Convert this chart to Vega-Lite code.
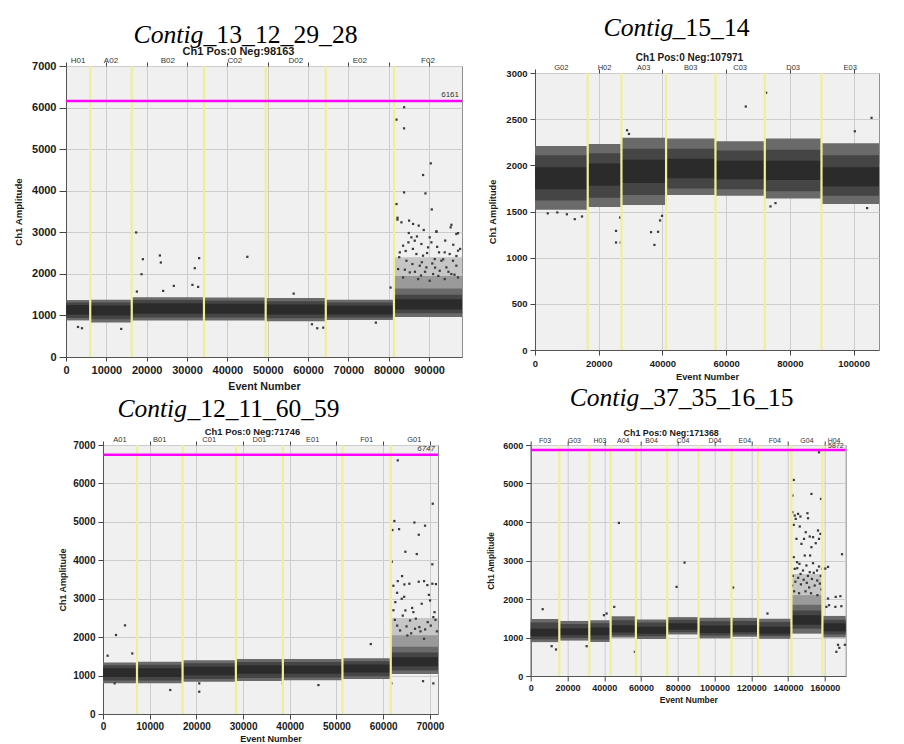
{
  "$schema": "https://vega.github.io/schema/vega-lite/v6.json",
  "background": "white",
  "padding": {"left": 12, "top": 13, "right": 0, "bottom": 0},
  "config": {
    "view": {"fill": "#f0f0f0", "stroke": "#8f8f8f", "strokeWidth": 1},
    "axis": {
      "labelFont": "Liberation Sans", "labelFontWeight": "bold", "labelColor": "#1a1a1a",
      "titleFont": "Liberation Sans", "titleFontWeight": "bold", "titleColor": "#1a1a1a",
      "tickColor": "#444444", "domainColor": "#555555", "gridColor": "#cccccc",
      "labelOverlap": false, "labelFlush": false, "labelBound": false
    },
    "text": {"font": "Liberation Sans"}
  },
  "datasets": {
    "wells": [
      {"sample": "c13", "well": "H01", "start": 0, "end": 6000},
      {"sample": "c13", "well": "A02", "start": 6000, "end": 16300},
      {"sample": "c13", "well": "B02", "start": 16300, "end": 34200},
      {"sample": "c13", "well": "C02", "start": 34200, "end": 49500},
      {"sample": "c13", "well": "D02", "start": 49500, "end": 64400},
      {"sample": "c13", "well": "E02", "start": 64400, "end": 81300},
      {"sample": "c13", "well": "F02", "start": 81300, "end": 98163},
      {"sample": "c15", "well": "G02", "start": 0, "end": 16550},
      {"sample": "c15", "well": "H02", "start": 16550, "end": 27130},
      {"sample": "c15", "well": "A03", "start": 27130, "end": 41140},
      {"sample": "c15", "well": "B03", "start": 41140, "end": 56640},
      {"sample": "c15", "well": "C03", "start": 56640, "end": 72130},
      {"sample": "c15", "well": "D03", "start": 72130, "end": 89920},
      {"sample": "c15", "well": "E03", "start": 89920, "end": 107971},
      {"sample": "c12", "well": "A01", "start": 0, "end": 7280},
      {"sample": "c12", "well": "B01", "start": 7280, "end": 17040},
      {"sample": "c12", "well": "C01", "start": 17040, "end": 28460},
      {"sample": "c12", "well": "D01", "start": 28460, "end": 38520},
      {"sample": "c12", "well": "E01", "start": 38520, "end": 51280},
      {"sample": "c12", "well": "F01", "start": 51280, "end": 61630},
      {"sample": "c12", "well": "G01", "start": 61630, "end": 71746},
      {"sample": "c37", "well": "F03", "start": 0, "end": 15560},
      {"sample": "c37", "well": "G03", "start": 15560, "end": 31870},
      {"sample": "c37", "well": "H03", "start": 31870, "end": 43480},
      {"sample": "c37", "well": "A04", "start": 43480, "end": 57230},
      {"sample": "c37", "well": "B04", "start": 57230, "end": 74260},
      {"sample": "c37", "well": "C04", "start": 74260, "end": 91300},
      {"sample": "c37", "well": "D04", "start": 91300, "end": 109240},
      {"sample": "c37", "well": "E04", "start": 109240, "end": 123720},
      {"sample": "c37", "well": "F04", "start": 123720, "end": 141850},
      {"sample": "c37", "well": "G04", "start": 141850, "end": 158700},
      {"sample": "c37", "well": "H04", "start": 158700, "end": 171368}
    ],
    "bands": [
      {"sample": "c13", "well": "H01", "zone": "fringe", "lo": 880, "hi": 1370},
      {"sample": "c13", "well": "H01", "zone": "body", "lo": 940, "hi": 1310},
      {"sample": "c13", "well": "H01", "zone": "core", "lo": 1020, "hi": 1250},
      {"sample": "c13", "well": "A02", "zone": "fringe", "lo": 830, "hi": 1380},
      {"sample": "c13", "well": "A02", "zone": "body", "lo": 910, "hi": 1310},
      {"sample": "c13", "well": "A02", "zone": "core", "lo": 1000, "hi": 1240},
      {"sample": "c13", "well": "B02", "zone": "fringe", "lo": 880, "hi": 1440},
      {"sample": "c13", "well": "B02", "zone": "body", "lo": 950, "hi": 1370},
      {"sample": "c13", "well": "B02", "zone": "core", "lo": 1040, "hi": 1290},
      {"sample": "c13", "well": "C02", "zone": "fringe", "lo": 880, "hi": 1430},
      {"sample": "c13", "well": "C02", "zone": "body", "lo": 950, "hi": 1360},
      {"sample": "c13", "well": "C02", "zone": "core", "lo": 1040, "hi": 1280},
      {"sample": "c13", "well": "D02", "zone": "fringe", "lo": 860, "hi": 1420},
      {"sample": "c13", "well": "D02", "zone": "body", "lo": 930, "hi": 1340},
      {"sample": "c13", "well": "D02", "zone": "core", "lo": 1020, "hi": 1260},
      {"sample": "c13", "well": "E02", "zone": "fringe", "lo": 890, "hi": 1380},
      {"sample": "c13", "well": "E02", "zone": "body", "lo": 950, "hi": 1310},
      {"sample": "c13", "well": "E02", "zone": "core", "lo": 1020, "hi": 1230},
      {"sample": "c13", "well": "F02", "zone": "spray", "lo": 1850, "hi": 2400},
      {"sample": "c13", "well": "F02", "zone": "rain", "lo": 1450, "hi": 1950},
      {"sample": "c13", "well": "F02", "zone": "fringe", "lo": 960, "hi": 1650},
      {"sample": "c13", "well": "F02", "zone": "body", "lo": 1050, "hi": 1500},
      {"sample": "c13", "well": "F02", "zone": "core", "lo": 1140, "hi": 1390},
      {"sample": "c15", "well": "G02", "zone": "fringe", "lo": 1520, "hi": 2210},
      {"sample": "c15", "well": "G02", "zone": "body", "lo": 1620, "hi": 2110},
      {"sample": "c15", "well": "G02", "zone": "core", "lo": 1740, "hi": 1980},
      {"sample": "c15", "well": "H02", "zone": "fringe", "lo": 1550, "hi": 2230},
      {"sample": "c15", "well": "H02", "zone": "body", "lo": 1650, "hi": 2130},
      {"sample": "c15", "well": "H02", "zone": "core", "lo": 1780, "hi": 2020},
      {"sample": "c15", "well": "A03", "zone": "fringe", "lo": 1570, "hi": 2300},
      {"sample": "c15", "well": "A03", "zone": "body", "lo": 1680, "hi": 2180},
      {"sample": "c15", "well": "A03", "zone": "core", "lo": 1810, "hi": 2060},
      {"sample": "c15", "well": "B03", "zone": "fringe", "lo": 1680, "hi": 2290},
      {"sample": "c15", "well": "B03", "zone": "body", "lo": 1750, "hi": 2180},
      {"sample": "c15", "well": "B03", "zone": "core", "lo": 1860, "hi": 2070},
      {"sample": "c15", "well": "C03", "zone": "fringe", "lo": 1670, "hi": 2260},
      {"sample": "c15", "well": "C03", "zone": "body", "lo": 1740, "hi": 2160},
      {"sample": "c15", "well": "C03", "zone": "core", "lo": 1850, "hi": 2050},
      {"sample": "c15", "well": "D03", "zone": "fringe", "lo": 1640, "hi": 2290},
      {"sample": "c15", "well": "D03", "zone": "body", "lo": 1720, "hi": 2170},
      {"sample": "c15", "well": "D03", "zone": "core", "lo": 1840, "hi": 2050},
      {"sample": "c15", "well": "E03", "zone": "fringe", "lo": 1580, "hi": 2240},
      {"sample": "c15", "well": "E03", "zone": "body", "lo": 1670, "hi": 2110},
      {"sample": "c15", "well": "E03", "zone": "core", "lo": 1770, "hi": 1980},
      {"sample": "c12", "well": "A01", "zone": "fringe", "lo": 800, "hi": 1340},
      {"sample": "c12", "well": "A01", "zone": "body", "lo": 870, "hi": 1270},
      {"sample": "c12", "well": "A01", "zone": "core", "lo": 960, "hi": 1190},
      {"sample": "c12", "well": "B01", "zone": "fringe", "lo": 800, "hi": 1360},
      {"sample": "c12", "well": "B01", "zone": "body", "lo": 870, "hi": 1280},
      {"sample": "c12", "well": "B01", "zone": "core", "lo": 960, "hi": 1190},
      {"sample": "c12", "well": "C01", "zone": "fringe", "lo": 840, "hi": 1400},
      {"sample": "c12", "well": "C01", "zone": "body", "lo": 910, "hi": 1320},
      {"sample": "c12", "well": "C01", "zone": "core", "lo": 1010, "hi": 1230},
      {"sample": "c12", "well": "D01", "zone": "fringe", "lo": 860, "hi": 1430},
      {"sample": "c12", "well": "D01", "zone": "body", "lo": 940, "hi": 1350},
      {"sample": "c12", "well": "D01", "zone": "core", "lo": 1050, "hi": 1270},
      {"sample": "c12", "well": "E01", "zone": "fringe", "lo": 880, "hi": 1430},
      {"sample": "c12", "well": "E01", "zone": "body", "lo": 950, "hi": 1350},
      {"sample": "c12", "well": "E01", "zone": "core", "lo": 1050, "hi": 1260},
      {"sample": "c12", "well": "F01", "zone": "fringe", "lo": 910, "hi": 1450},
      {"sample": "c12", "well": "F01", "zone": "body", "lo": 980, "hi": 1370},
      {"sample": "c12", "well": "F01", "zone": "core", "lo": 1080, "hi": 1290},
      {"sample": "c12", "well": "G01", "zone": "spray", "lo": 1950, "hi": 2500},
      {"sample": "c12", "well": "G01", "zone": "rain", "lo": 1550, "hi": 2050},
      {"sample": "c12", "well": "G01", "zone": "fringe", "lo": 1040, "hi": 1750},
      {"sample": "c12", "well": "G01", "zone": "body", "lo": 1130, "hi": 1600},
      {"sample": "c12", "well": "G01", "zone": "core", "lo": 1240, "hi": 1480},
      {"sample": "c37", "well": "F03", "zone": "fringe", "lo": 880, "hi": 1480},
      {"sample": "c37", "well": "F03", "zone": "body", "lo": 950, "hi": 1390},
      {"sample": "c37", "well": "F03", "zone": "core", "lo": 1030, "hi": 1230},
      {"sample": "c37", "well": "G03", "zone": "fringe", "lo": 920, "hi": 1430},
      {"sample": "c37", "well": "G03", "zone": "body", "lo": 990, "hi": 1350},
      {"sample": "c37", "well": "G03", "zone": "core", "lo": 1060, "hi": 1240},
      {"sample": "c37", "well": "H03", "zone": "fringe", "lo": 880, "hi": 1450},
      {"sample": "c37", "well": "H03", "zone": "body", "lo": 950, "hi": 1370},
      {"sample": "c37", "well": "H03", "zone": "core", "lo": 1060, "hi": 1260},
      {"sample": "c37", "well": "A04", "zone": "fringe", "lo": 1000, "hi": 1550},
      {"sample": "c37", "well": "A04", "zone": "body", "lo": 1060, "hi": 1450},
      {"sample": "c37", "well": "A04", "zone": "core", "lo": 1130, "hi": 1320},
      {"sample": "c37", "well": "B04", "zone": "fringe", "lo": 960, "hi": 1470},
      {"sample": "c37", "well": "B04", "zone": "body", "lo": 1030, "hi": 1390},
      {"sample": "c37", "well": "B04", "zone": "core", "lo": 1100, "hi": 1280},
      {"sample": "c37", "well": "C04", "zone": "fringe", "lo": 1080, "hi": 1530},
      {"sample": "c37", "well": "C04", "zone": "body", "lo": 1140, "hi": 1460},
      {"sample": "c37", "well": "C04", "zone": "core", "lo": 1200, "hi": 1370},
      {"sample": "c37", "well": "D04", "zone": "fringe", "lo": 980, "hi": 1510},
      {"sample": "c37", "well": "D04", "zone": "body", "lo": 1050, "hi": 1420},
      {"sample": "c37", "well": "D04", "zone": "core", "lo": 1120, "hi": 1310},
      {"sample": "c37", "well": "E04", "zone": "fringe", "lo": 1020, "hi": 1510},
      {"sample": "c37", "well": "E04", "zone": "body", "lo": 1080, "hi": 1430},
      {"sample": "c37", "well": "E04", "zone": "core", "lo": 1140, "hi": 1320},
      {"sample": "c37", "well": "F04", "zone": "fringe", "lo": 970, "hi": 1490},
      {"sample": "c37", "well": "F04", "zone": "body", "lo": 1040, "hi": 1400},
      {"sample": "c37", "well": "F04", "zone": "core", "lo": 1100, "hi": 1280},
      {"sample": "c37", "well": "G04", "zone": "spray", "lo": 2000, "hi": 2650},
      {"sample": "c37", "well": "G04", "zone": "rain", "lo": 1700, "hi": 2100},
      {"sample": "c37", "well": "G04", "zone": "fringe", "lo": 1100, "hi": 1850},
      {"sample": "c37", "well": "G04", "zone": "body", "lo": 1230, "hi": 1700},
      {"sample": "c37", "well": "G04", "zone": "core", "lo": 1330, "hi": 1580},
      {"sample": "c37", "well": "H04", "zone": "fringe", "lo": 1000, "hi": 1560},
      {"sample": "c37", "well": "H04", "zone": "body", "lo": 1080, "hi": 1460},
      {"sample": "c37", "well": "H04", "zone": "core", "lo": 1160, "hi": 1370}
    ],
    "thresholds": [
      {"sample": "c13", "threshold": 6161},
      {"sample": "c12", "threshold": 6747},
      {"sample": "c37", "threshold": 5872}
    ],
    "drops": [
      {"sample": "c13", "event": 2970, "amp": 723}, {"sample": "c13", "event": 3960, "amp": 692},
      {"sample": "c13", "event": 13690, "amp": 675}, {"sample": "c13", "event": 17400, "amp": 2996},
      {"sample": "c13", "event": 19060, "amp": 2353}, {"sample": "c13", "event": 18720, "amp": 1992},
      {"sample": "c13", "event": 17570, "amp": 1574}, {"sample": "c13", "event": 23270, "amp": 2442},
      {"sample": "c13", "event": 23510, "amp": 2273}, {"sample": "c13", "event": 24080, "amp": 1590},
      {"sample": "c13", "event": 26730, "amp": 1711}, {"sample": "c13", "event": 31930, "amp": 2137},
      {"sample": "c13", "event": 33000, "amp": 2378}, {"sample": "c13", "event": 31340, "amp": 1735},
      {"sample": "c13", "event": 32750, "amp": 1687}, {"sample": "c13", "event": 44950, "amp": 2410},
      {"sample": "c13", "event": 56440, "amp": 1525}, {"sample": "c13", "event": 60970, "amp": 788},
      {"sample": "c13", "event": 62280, "amp": 692}, {"sample": "c13", "event": 63770, "amp": 706},
      {"sample": "c13", "event": 76810, "amp": 827}, {"sample": "c13", "event": 80450, "amp": 1670},
      {"sample": "c13", "event": 83820, "amp": 6008}, {"sample": "c13", "event": 81930, "amp": 5710},
      {"sample": "c13", "event": 83800, "amp": 5500}, {"sample": "c13", "event": 90420, "amp": 4658},
      {"sample": "c13", "event": 88520, "amp": 4378}, {"sample": "c13", "event": 83800, "amp": 3960},
      {"sample": "c13", "event": 89100, "amp": 3935}, {"sample": "c13", "event": 81930, "amp": 3679},
      {"sample": "c13", "event": 90670, "amp": 3550}, {"sample": "c13", "event": 95540, "amp": 3180},
      {"sample": "c13", "event": 91830, "amp": 3012}, {"sample": "c13", "event": 82180, "amp": 3350},
      {"sample": "c13", "event": 97180, "amp": 2980}, {"sample": "c13", "event": 96770, "amp": 2430},
      {"sample": "c13", "event": 82160, "amp": 3304}, {"sample": "c13", "event": 83150, "amp": 3240},
      {"sample": "c13", "event": 85050, "amp": 3280}, {"sample": "c13", "event": 86040, "amp": 3200},
      {"sample": "c13", "event": 87440, "amp": 3160}, {"sample": "c13", "event": 88680, "amp": 3055},
      {"sample": "c13", "event": 91810, "amp": 3023}, {"sample": "c13", "event": 95350, "amp": 3119},
      {"sample": "c13", "event": 96760, "amp": 2958}, {"sample": "c13", "event": 84970, "amp": 2983},
      {"sample": "c13", "event": 85620, "amp": 2878}, {"sample": "c13", "event": 84880, "amp": 2758},
      {"sample": "c13", "event": 86450, "amp": 2798}, {"sample": "c13", "event": 88100, "amp": 2718},
      {"sample": "c13", "event": 90160, "amp": 2878}, {"sample": "c13", "event": 90570, "amp": 2758},
      {"sample": "c13", "event": 92470, "amp": 2517}, {"sample": "c13", "event": 93870, "amp": 2517},
      {"sample": "c13", "event": 95110, "amp": 2477}, {"sample": "c13", "event": 97180, "amp": 2557},
      {"sample": "c13", "event": 83560, "amp": 2677}, {"sample": "c13", "event": 82740, "amp": 2517},
      {"sample": "c13", "event": 86860, "amp": 2477}, {"sample": "c13", "event": 88510, "amp": 2437},
      {"sample": "c13", "event": 89750, "amp": 2637}, {"sample": "c13", "event": 91400, "amp": 2356},
      {"sample": "c13", "event": 93050, "amp": 2316}, {"sample": "c13", "event": 95940, "amp": 2316},
      {"sample": "c13", "event": 84390, "amp": 2316}, {"sample": "c13", "event": 85870, "amp": 2236},
      {"sample": "c13", "event": 87690, "amp": 2196}, {"sample": "c13", "event": 89340, "amp": 2156},
      {"sample": "c13", "event": 94290, "amp": 2156}, {"sample": "c13", "event": 96760, "amp": 2196},
      {"sample": "c13", "event": 82330, "amp": 2115}, {"sample": "c13", "event": 85210, "amp": 2035},
      {"sample": "c13", "event": 91000, "amp": 1995}, {"sample": "c13", "event": 92640, "amp": 2075},
      {"sample": "c13", "event": 95520, "amp": 1995}, {"sample": "c13", "event": 83560, "amp": 1915},
      {"sample": "c13", "event": 87280, "amp": 1875}, {"sample": "c13", "event": 90160, "amp": 1834},
      {"sample": "c13", "event": 93870, "amp": 1875}, {"sample": "c13", "event": 97180, "amp": 1915},
      {"sample": "c13", "event": 86000, "amp": 2600}, {"sample": "c13", "event": 92000, "amp": 2650},
      {"sample": "c13", "event": 94000, "amp": 2800}, {"sample": "c13", "event": 87000, "amp": 2900},
      {"sample": "c13", "event": 89500, "amp": 2500}, {"sample": "c13", "event": 93500, "amp": 2350},
      {"sample": "c13", "event": 96000, "amp": 2700}, {"sample": "c13", "event": 97700, "amp": 2600},
      {"sample": "c13", "event": 84200, "amp": 2550}, {"sample": "c13", "event": 90800, "amp": 2250},
      {"sample": "c13", "event": 88200, "amp": 2280}, {"sample": "c13", "event": 82600, "amp": 2400},
      {"sample": "c13", "event": 86500, "amp": 2050}, {"sample": "c13", "event": 94800, "amp": 2050},
      {"sample": "c13", "event": 92300, "amp": 1950}, {"sample": "c13", "event": 89000, "amp": 2050},
      {"sample": "c13", "event": 84000, "amp": 2100}, {"sample": "c13", "event": 96300, "amp": 1980},
      {"sample": "c13", "event": 88000, "amp": 1960}, {"sample": "c13", "event": 91500, "amp": 2150},
      {"sample": "c15", "event": 66160, "amp": 2637}, {"sample": "c15", "event": 72540, "amp": 2786},
      {"sample": "c15", "event": 105630, "amp": 2514}, {"sample": "c15", "event": 100380, "amp": 2369},
      {"sample": "c15", "event": 12470, "amp": 1417}, {"sample": "c15", "event": 14760, "amp": 1446},
      {"sample": "c15", "event": 25430, "amp": 1290}, {"sample": "c15", "event": 25430, "amp": 1164},
      {"sample": "c15", "event": 26910, "amp": 1164}, {"sample": "c15", "event": 26700, "amp": 1435},
      {"sample": "c15", "event": 36420, "amp": 1276}, {"sample": "c15", "event": 38620, "amp": 1280},
      {"sample": "c15", "event": 37490, "amp": 1138}, {"sample": "c15", "event": 39250, "amp": 1403},
      {"sample": "c15", "event": 39880, "amp": 1453}, {"sample": "c15", "event": 73910, "amp": 1555},
      {"sample": "c15", "event": 75480, "amp": 1591}, {"sample": "c15", "event": 104250, "amp": 1537},
      {"sample": "c15", "event": 28890, "amp": 2380}, {"sample": "c15", "event": 29500, "amp": 2340},
      {"sample": "c15", "event": 10000, "amp": 1470}, {"sample": "c15", "event": 7000, "amp": 1490},
      {"sample": "c15", "event": 4000, "amp": 1480},
      {"sample": "c12", "event": 990, "amp": 1517}, {"sample": "c12", "event": 2780, "amp": 2056},
      {"sample": "c12", "event": 4710, "amp": 2306}, {"sample": "c12", "event": 6270, "amp": 1575},
      {"sample": "c12", "event": 2490, "amp": 797}, {"sample": "c12", "event": 14400, "amp": 624},
      {"sample": "c12", "event": 20610, "amp": 580}, {"sample": "c12", "event": 20610, "amp": 797},
      {"sample": "c12", "event": 38520, "amp": 797}, {"sample": "c12", "event": 46140, "amp": 753},
      {"sample": "c12", "event": 57350, "amp": 1820}, {"sample": "c12", "event": 63130, "amp": 6600},
      {"sample": "c12", "event": 70620, "amp": 5472}, {"sample": "c12", "event": 62400, "amp": 5022},
      {"sample": "c12", "event": 61980, "amp": 4788}, {"sample": "c12", "event": 63410, "amp": 4810},
      {"sample": "c12", "event": 66690, "amp": 4983}, {"sample": "c12", "event": 68970, "amp": 4900},
      {"sample": "c12", "event": 67620, "amp": 4665}, {"sample": "c12", "event": 64760, "amp": 4222},
      {"sample": "c12", "event": 67200, "amp": 4162}, {"sample": "c12", "event": 70530, "amp": 3895},
      {"sample": "c12", "event": 61850, "amp": 3963}, {"sample": "c12", "event": 64050, "amp": 3588},
      {"sample": "c12", "event": 62190, "amp": 3337}, {"sample": "c12", "event": 63130, "amp": 3458},
      {"sample": "c12", "event": 62980, "amp": 3154}, {"sample": "c12", "event": 64540, "amp": 3372},
      {"sample": "c12", "event": 65610, "amp": 3390}, {"sample": "c12", "event": 67620, "amp": 3442},
      {"sample": "c12", "event": 68760, "amp": 3458}, {"sample": "c12", "event": 69470, "amp": 3354},
      {"sample": "c12", "event": 70530, "amp": 3390}, {"sample": "c12", "event": 62610, "amp": 2911},
      {"sample": "c12", "event": 63980, "amp": 2998}, {"sample": "c12", "event": 64760, "amp": 2695},
      {"sample": "c12", "event": 66470, "amp": 2651}, {"sample": "c12", "event": 68260, "amp": 2868},
      {"sample": "c12", "event": 70040, "amp": 2955}, {"sample": "c12", "event": 65760, "amp": 2434},
      {"sample": "c12", "event": 67750, "amp": 2261}, {"sample": "c12", "event": 69550, "amp": 2391},
      {"sample": "c12", "event": 63620, "amp": 2174}, {"sample": "c12", "event": 70750, "amp": 2521},
      {"sample": "c12", "event": 65190, "amp": 2044}, {"sample": "c12", "event": 66830, "amp": 2218},
      {"sample": "c12", "event": 68760, "amp": 1957}, {"sample": "c12", "event": 70750, "amp": 797},
      {"sample": "c12", "event": 68540, "amp": 854}, {"sample": "c12", "event": 61760, "amp": 797},
      {"sample": "c12", "event": 62500, "amp": 2450}, {"sample": "c12", "event": 63000, "amp": 2300},
      {"sample": "c12", "event": 64200, "amp": 2560}, {"sample": "c12", "event": 65000, "amp": 2280},
      {"sample": "c12", "event": 66000, "amp": 2100}, {"sample": "c12", "event": 67000, "amp": 2480},
      {"sample": "c12", "event": 68000, "amp": 2150}, {"sample": "c12", "event": 69000, "amp": 2200},
      {"sample": "c12", "event": 70200, "amp": 2300}, {"sample": "c12", "event": 71200, "amp": 2450},
      {"sample": "c12", "event": 71500, "amp": 2150}, {"sample": "c12", "event": 62200, "amp": 2700},
      {"sample": "c12", "event": 71000, "amp": 2650}, {"sample": "c12", "event": 66200, "amp": 2760},
      {"sample": "c12", "event": 64500, "amp": 3050}, {"sample": "c12", "event": 69800, "amp": 3100},
      {"sample": "c12", "event": 71300, "amp": 3380},
      {"sample": "c37", "event": 6520, "amp": 1735}, {"sample": "c37", "event": 47990, "amp": 3976},
      {"sample": "c37", "event": 45440, "amp": 1796}, {"sample": "c37", "event": 83700, "amp": 2946},
      {"sample": "c37", "event": 79350, "amp": 2315}, {"sample": "c37", "event": 110120, "amp": 2298},
      {"sample": "c37", "event": 56690, "amp": 628}, {"sample": "c37", "event": 13750, "amp": 689},
      {"sample": "c37", "event": 11410, "amp": 775}, {"sample": "c37", "event": 30440, "amp": 775},
      {"sample": "c37", "event": 39840, "amp": 1580}, {"sample": "c37", "event": 41300, "amp": 1623},
      {"sample": "c37", "event": 128800, "amp": 1623},
      {"sample": "c37", "event": 161750, "amp": 2012}, {"sample": "c37", "event": 165930, "amp": 2055},
      {"sample": "c37", "event": 168480, "amp": 2073}, {"sample": "c37", "event": 160870, "amp": 1796},
      {"sample": "c37", "event": 162320, "amp": 1839}, {"sample": "c37", "event": 165750, "amp": 1796},
      {"sample": "c37", "event": 169010, "amp": 1813}, {"sample": "c37", "event": 161750, "amp": 2834},
      {"sample": "c37", "event": 160300, "amp": 2790}, {"sample": "c37", "event": 169370, "amp": 3163},
      {"sample": "c37", "event": 170900, "amp": 810}, {"sample": "c37", "event": 167180, "amp": 810},
      {"sample": "c37", "event": 167900, "amp": 732}, {"sample": "c37", "event": 166300, "amp": 628},
      {"sample": "c37", "event": 156850, "amp": 5811}, {"sample": "c37", "event": 143100, "amp": 5092},
      {"sample": "c37", "event": 142400, "amp": 4688}, {"sample": "c37", "event": 152720, "amp": 4729},
      {"sample": "c37", "event": 157940, "amp": 4600}, {"sample": "c37", "event": 142400, "amp": 4254},
      {"sample": "c37", "event": 143650, "amp": 4168}, {"sample": "c37", "event": 145440, "amp": 4211},
      {"sample": "c37", "event": 146740, "amp": 4142}, {"sample": "c37", "event": 150550, "amp": 4228},
      {"sample": "c37", "event": 150880, "amp": 4098}, {"sample": "c37", "event": 144190, "amp": 4081},
      {"sample": "c37", "event": 143100, "amp": 3925}, {"sample": "c37", "event": 146370, "amp": 3883},
      {"sample": "c37", "event": 156310, "amp": 3779}, {"sample": "c37", "event": 157620, "amp": 3692},
      {"sample": "c37", "event": 149630, "amp": 3735}, {"sample": "c37", "event": 153600, "amp": 3606},
      {"sample": "c37", "event": 148700, "amp": 3562}, {"sample": "c37", "event": 151800, "amp": 3623},
      {"sample": "c37", "event": 144570, "amp": 3562}, {"sample": "c37", "event": 156850, "amp": 3562},
      {"sample": "c37", "event": 147290, "amp": 3432}, {"sample": "c37", "event": 155060, "amp": 3450},
      {"sample": "c37", "event": 152720, "amp": 3346}, {"sample": "c37", "event": 143100, "amp": 3087},
      {"sample": "c37", "event": 149080, "amp": 3130}, {"sample": "c37", "event": 152000, "amp": 3130},
      {"sample": "c37", "event": 144900, "amp": 2957}, {"sample": "c37", "event": 146200, "amp": 2913},
      {"sample": "c37", "event": 150000, "amp": 2870}, {"sample": "c37", "event": 153600, "amp": 2930},
      {"sample": "c37", "event": 156850, "amp": 2844}, {"sample": "c37", "event": 143650, "amp": 2783},
      {"sample": "c37", "event": 148150, "amp": 2740}, {"sample": "c37", "event": 151800, "amp": 2697},
      {"sample": "c37", "event": 155780, "amp": 2740}, {"sample": "c37", "event": 158500, "amp": 2783},
      {"sample": "c37", "event": 142600, "amp": 2600}, {"sample": "c37", "event": 144000, "amp": 2450},
      {"sample": "c37", "event": 145500, "amp": 2550}, {"sample": "c37", "event": 147000, "amp": 2380},
      {"sample": "c37", "event": 148500, "amp": 2500}, {"sample": "c37", "event": 150200, "amp": 2420},
      {"sample": "c37", "event": 151500, "amp": 2300}, {"sample": "c37", "event": 153000, "amp": 2520},
      {"sample": "c37", "event": 154500, "amp": 2350}, {"sample": "c37", "event": 155900, "amp": 2480},
      {"sample": "c37", "event": 157300, "amp": 2400}, {"sample": "c37", "event": 158200, "amp": 2250},
      {"sample": "c37", "event": 143300, "amp": 2200}, {"sample": "c37", "event": 146000, "amp": 2150},
      {"sample": "c37", "event": 149500, "amp": 2200}, {"sample": "c37", "event": 152500, "amp": 2150},
      {"sample": "c37", "event": 156000, "amp": 2100}, {"sample": "c37", "event": 142200, "amp": 2350},
      {"sample": "c37", "event": 157800, "amp": 2600}, {"sample": "c37", "event": 154000, "amp": 2680},
      {"sample": "c37", "event": 146800, "amp": 2650}, {"sample": "c37", "event": 145000, "amp": 2800},
      {"sample": "c37", "event": 150800, "amp": 2600}
    ]
  },
  "spacing": -8,
  "vconcat": [
    {
      "bounds": "flush",
      "center": true,
      "spacing": 73,
      "hconcat": [
        {
          "width": 396,
          "height": 291,
          "resolve": {"axis": {"x": "independent", "y": "independent"}},
          "layer": [
            {
              "data": {"name": "bands"},
              "transform": [
                {"filter": "datum.sample === 'c13'"},
                {"lookup": "well", "from": {"data": {"name": "wells"}, "key": "well", "fields": ["start", "end"]}}
              ],
              "mark": {"type": "rect"},
              "encoding": {
                "x": {"field": "start", "type": "quantitative", "scale": {"domain": [0, 98163], "nice": false},
                  "axis": {"orient": "bottom", "values": [0, 10000, 20000, 30000, 40000, 50000, 60000, 70000, 80000, 90000], "format": "d",
                    "grid": true, "labelFontSize": 11, "tickSize": 4, "labelPadding": 3,
                    "title": "Event Number", "titleFontSize": 10.7, "titleX": 198, "titleY": 29, "titleBaseline": "middle"}},
                "x2": {"field": "end"},
                "y": {"field": "lo", "type": "quantitative", "scale": {"domain": [0, 7000], "nice": false},
                  "axis": {"orient": "left", "values": [0, 1000, 2000, 3000, 4000, 5000, 6000, 7000], "format": "d", "grid": true,
                    "labelFontSize": 11, "tickSize": 7, "labelPadding": 3,
                    "title": "Ch1 Amplitude", "titleFontSize": 9.6, "titleAngle": -90, "titleX": -48, "titleY": 145.5, "titleBaseline": "middle"}},
                "y2": {"field": "hi"},
                "color": {"field": "zone", "type": "nominal", "legend": null,
                  "scale": {"domain": ["spray", "rain", "fringe", "body", "core"], "range": ["#c6c6c6", "#9a9a9a", "#6a6a6a", "#454545", "#2b2b2b"]}}
              }
            },
            {
              "data": {"name": "drops"},
              "transform": [{"filter": "datum.sample === 'c13'"}],
              "mark": {"type": "square", "size": 5, "color": "#3a3a3a", "opacity": 1},
              "encoding": {
                "x": {"field": "event", "type": "quantitative",
                  "axis": {"orient": "top", "labels": false, "ticks": false, "domain": false, "grid": false,
                    "title": "Contig", "titleFont": "Liberation Serif", "titleFontSize": 25.7, "titleFontStyle": "italic", "titleFontWeight": "normal",
                    "titleColor": "#000000", "titleAlign": "left", "titleBaseline": "alphabetic", "titleX": 67, "titleY": -24}},
                "y": {"field": "amp", "type": "quantitative", "axis": null}
              }
            },
            {
              "data": {"name": "wells"},
              "transform": [{"filter": "datum.sample === 'c13' && datum.start > 0"}],
              "mark": {"type": "rule", "color": "#efef9a", "strokeWidth": 2.2},
              "encoding": {
                "x": {"field": "start", "type": "quantitative",
                  "axis": {"orient": "top", "values": [0, 10000, 20000, 30000, 40000, 50000, 60000, 70000, 80000, 90000],
                    "labels": false, "ticks": true, "tickSize": 4, "domain": false, "grid": false,
                    "title": "Ch1 Pos:0 Neg:98163", "titleFontSize": 11, "titleAlign": "center", "titleBaseline": "alphabetic", "titleX": 172, "titleY": -11.7}}
              }
            },
            {
              "data": {"name": "wells"},
              "transform": [{"filter": "datum.sample === 'c13'"}, {"calculate": "(datum.start + datum.end) / 2", "as": "mid"}],
              "mark": {"type": "text", "fontSize": 8, "color": "#333333", "baseline": "bottom", "dy": -1},
              "encoding": {
                "x": {"field": "mid", "type": "quantitative",
                  "axis": {"orient": "top", "labels": false, "ticks": false, "domain": false, "grid": false,
                    "title": "_13_12_29_28", "titleFont": "Liberation Serif", "titleFontSize": 25.7, "titleFontWeight": "normal",
                    "titleColor": "#000000", "titleAlign": "left", "titleBaseline": "alphabetic", "titleX": 137, "titleY": -24}},
                "y": {"datum": 7000, "axis": null},
                "text": {"field": "well"}
              }
            },
            {
              "data": {"name": "thresholds"},
              "transform": [{"filter": "datum.sample === 'c13'"}],
              "layer": [
                {"mark": {"type": "rule", "color": "#ff00ff", "strokeWidth": 2.5},
                  "encoding": {"y": {"field": "threshold", "type": "quantitative", "axis": null}}},
                {"mark": {"type": "text", "align": "right", "baseline": "bottom", "dx": -3, "dy": -2, "fontSize": 8, "color": "#333333"},
                  "encoding": {"x": {"value": "width"}, "y": {"field": "threshold", "type": "quantitative", "axis": null},
                    "text": {"field": "threshold", "type": "quantitative", "format": "d"}}}
              ]
            }
          ]
        },
        {
          "width": 344,
          "height": 277,
          "resolve": {"axis": {"x": "independent", "y": "independent"}},
          "layer": [
            {
              "data": {"name": "bands"},
              "transform": [
                {"filter": "datum.sample === 'c15'"},
                {"lookup": "well", "from": {"data": {"name": "wells"}, "key": "well", "fields": ["start", "end"]}}
              ],
              "mark": {"type": "rect"},
              "encoding": {
                "x": {"field": "start", "type": "quantitative", "scale": {"domain": [0, 107971], "nice": false},
                  "axis": {"orient": "bottom", "values": [0, 20000, 40000, 60000, 80000, 100000], "format": "d",
                    "grid": true, "labelFontSize": 9.5, "tickSize": 5, "labelPadding": 3,
                    "title": "Event Number", "titleFontSize": 9.3, "titleX": 172, "titleY": 26.5, "titleBaseline": "middle"}},
                "x2": {"field": "end"},
                "y": {"field": "lo", "type": "quantitative", "scale": {"domain": [0, 3000], "nice": false},
                  "axis": {"orient": "left", "values": [0, 500, 1000, 1500, 2000, 2500, 3000], "format": "d", "grid": true,
                    "labelFontSize": 9.5, "tickSize": 5, "labelPadding": 3,
                    "title": "Ch1 Amplitude", "titleFontSize": 9.2, "titleAngle": -90, "titleX": -43, "titleY": 138.5, "titleBaseline": "middle"}},
                "y2": {"field": "hi"},
                "color": {"field": "zone", "type": "nominal", "legend": null,
                  "scale": {"domain": ["spray", "rain", "fringe", "body", "core"], "range": ["#c6c6c6", "#9a9a9a", "#6a6a6a", "#454545", "#2b2b2b"]}}
              }
            },
            {
              "data": {"name": "drops"},
              "transform": [{"filter": "datum.sample === 'c15'"}],
              "mark": {"type": "square", "size": 5, "color": "#3a3a3a", "opacity": 1},
              "encoding": {
                "x": {"field": "event", "type": "quantitative",
                  "axis": {"orient": "top", "labels": false, "ticks": false, "domain": false, "grid": false,
                    "title": "Contig", "titleFont": "Liberation Serif", "titleFontSize": 25.7, "titleFontStyle": "italic", "titleFontWeight": "normal",
                    "titleColor": "#000000", "titleAlign": "left", "titleBaseline": "alphabetic", "titleX": 68, "titleY": -38}},
                "y": {"field": "amp", "type": "quantitative", "axis": null}
              }
            },
            {
              "data": {"name": "wells"},
              "transform": [{"filter": "datum.sample === 'c15' && datum.start > 0"}],
              "mark": {"type": "rule", "color": "#efef9a", "strokeWidth": 2.2},
              "encoding": {
                "x": {"field": "start", "type": "quantitative",
                  "axis": {"orient": "top", "values": [0, 20000, 40000, 60000, 80000, 100000],
                    "labels": false, "ticks": true, "tickSize": 4, "domain": false, "grid": false,
                    "title": "Ch1 Pos:0 Neg:107971", "titleFontSize": 10, "titleAlign": "center", "titleBaseline": "alphabetic", "titleX": 154, "titleY": -13}}
              }
            },
            {
              "data": {"name": "wells"},
              "transform": [{"filter": "datum.sample === 'c15'"}, {"calculate": "(datum.start + datum.end) / 2", "as": "mid"}],
              "mark": {"type": "text", "fontSize": 7.5, "color": "#333333", "baseline": "bottom", "dy": -1},
              "encoding": {
                "x": {"field": "mid", "type": "quantitative",
                  "axis": {"orient": "top", "labels": false, "ticks": false, "domain": false, "grid": false,
                    "title": "_15_14", "titleFont": "Liberation Serif", "titleFontSize": 25.7, "titleFontWeight": "normal",
                    "titleColor": "#000000", "titleAlign": "left", "titleBaseline": "alphabetic", "titleX": 137, "titleY": -38}},
                "y": {"datum": 3000, "axis": null},
                "text": {"field": "well"}
              }
            }
          ]
        }
      ]
    },
    {
      "bounds": "flush",
      "spacing": 0,
      "hconcat": [
        {
          "width": 37,
          "height": 1,
          "view": {"stroke": null, "fill": null},
          "data": {"values": [{}]},
          "mark": {"type": "text"},
          "encoding": {"text": {"value": ""}}
        },
        {
          "bounds": "flush",
          "spacing": 92.7,
          "hconcat": [
            {
              "width": 335,
              "height": 269,
              "resolve": {"axis": {"x": "independent", "y": "independent"}},
              "layer": [
                {
                  "data": {"name": "bands"},
                  "transform": [
                    {"filter": "datum.sample === 'c12'"},
                    {"lookup": "well", "from": {"data": {"name": "wells"}, "key": "well", "fields": ["start", "end"]}}
                  ],
                  "mark": {"type": "rect"},
                  "encoding": {
                    "x": {"field": "start", "type": "quantitative", "scale": {"domain": [0, 71746], "nice": false},
                      "axis": {"orient": "bottom", "values": [0, 10000, 20000, 30000, 40000, 50000, 60000, 70000], "format": "d",
                        "grid": true, "labelFontSize": 10, "tickSize": 5, "labelPadding": 2,
                        "title": "Event Number", "titleFontSize": 9.1, "titleX": 167.5, "titleY": 24, "titleBaseline": "middle"}},
                    "x2": {"field": "end"},
                    "y": {"field": "lo", "type": "quantitative", "scale": {"domain": [0, 7000], "nice": false},
                      "axis": {"orient": "left", "values": [0, 1000, 2000, 3000, 4000, 5000, 6000, 7000], "format": "d", "grid": true,
                        "labelFontSize": 10, "tickSize": 5, "labelPadding": 3,
                        "title": "Ch1 Amplitude", "titleFontSize": 9, "titleAngle": -90, "titleX": -41, "titleY": 134.5, "titleBaseline": "middle"}},
                    "y2": {"field": "hi"},
                    "color": {"field": "zone", "type": "nominal", "legend": null,
                      "scale": {"domain": ["spray", "rain", "fringe", "body", "core"], "range": ["#c6c6c6", "#9a9a9a", "#6a6a6a", "#454545", "#2b2b2b"]}}
                  }
                },
                {
                  "data": {"name": "drops"},
                  "transform": [{"filter": "datum.sample === 'c12'"}],
                  "mark": {"type": "square", "size": 5, "color": "#3a3a3a", "opacity": 1},
                  "encoding": {
                    "x": {"field": "event", "type": "quantitative",
                      "axis": {"orient": "top", "labels": false, "ticks": false, "domain": false, "grid": false,
                        "title": "Contig", "titleFont": "Liberation Serif", "titleFontSize": 25.5, "titleFontStyle": "italic", "titleFontWeight": "normal",
                        "titleColor": "#000000", "titleAlign": "left", "titleBaseline": "alphabetic", "titleX": 14, "titleY": -29}},
                    "y": {"field": "amp", "type": "quantitative", "axis": null}
                  }
                },
                {
                  "data": {"name": "wells"},
                  "transform": [{"filter": "datum.sample === 'c12' && datum.start > 0"}],
                  "mark": {"type": "rule", "color": "#efef9a", "strokeWidth": 2.2},
                  "encoding": {
                    "x": {"field": "start", "type": "quantitative",
                      "axis": {"orient": "top", "values": [0, 10000, 20000, 30000, 40000, 50000, 60000, 70000],
                        "labels": false, "ticks": true, "tickSize": 4, "domain": false, "grid": false,
                        "title": "Ch1 Pos:0 Neg:71746", "titleFontSize": 9.4, "titleAlign": "center", "titleBaseline": "alphabetic", "titleX": 149, "titleY": -10.3}}
                  }
                },
                {
                  "data": {"name": "wells"},
                  "transform": [{"filter": "datum.sample === 'c12'"}, {"calculate": "(datum.start + datum.end) / 2", "as": "mid"}],
                  "mark": {"type": "text", "fontSize": 7.5, "color": "#333333", "baseline": "bottom", "dy": -1},
                  "encoding": {
                    "x": {"field": "mid", "type": "quantitative",
                      "axis": {"orient": "top", "labels": false, "ticks": false, "domain": false, "grid": false,
                        "title": "_12_11_60_59", "titleFont": "Liberation Serif", "titleFontSize": 25.5, "titleFontWeight": "normal",
                        "titleColor": "#000000", "titleAlign": "left", "titleBaseline": "alphabetic", "titleX": 84, "titleY": -29}},
                    "y": {"datum": 7000, "axis": null},
                    "text": {"field": "well"}
                  }
                },
                {
                  "data": {"name": "thresholds"},
                  "transform": [{"filter": "datum.sample === 'c12'"}],
                  "layer": [
                    {"mark": {"type": "rule", "color": "#ff00ff", "strokeWidth": 2.5},
                      "encoding": {"y": {"field": "threshold", "type": "quantitative", "axis": null}}},
                    {"mark": {"type": "text", "align": "right", "baseline": "bottom", "dx": -3, "dy": -2, "fontSize": 8, "fontStyle": "italic", "color": "#333333"},
                      "encoding": {"x": {"value": "width"}, "y": {"field": "threshold", "type": "quantitative", "axis": null},
                        "text": {"field": "threshold", "type": "quantitative", "format": "d"}}}
                  ]
                }
              ]
            },
            {
              "width": 315,
              "height": 231,
              "resolve": {"axis": {"x": "independent", "y": "independent"}},
              "layer": [
                {
                  "data": {"name": "bands"},
                  "transform": [
                    {"filter": "datum.sample === 'c37'"},
                    {"lookup": "well", "from": {"data": {"name": "wells"}, "key": "well", "fields": ["start", "end"]}}
                  ],
                  "mark": {"type": "rect"},
                  "encoding": {
                    "x": {"field": "start", "type": "quantitative", "scale": {"domain": [0, 171368], "nice": false},
                      "axis": {"orient": "bottom", "values": [0, 20000, 40000, 60000, 80000, 100000, 120000, 140000, 160000], "format": "d",
                        "grid": true, "labelFontSize": 9, "tickSize": 5, "labelPadding": 2,
                        "title": "Event Number", "titleFontSize": 8.6, "titleX": 157.6, "titleY": 23, "titleBaseline": "middle"}},
                    "x2": {"field": "end"},
                    "y": {"field": "lo", "type": "quantitative", "scale": {"domain": [0, 6000], "nice": false},
                      "axis": {"orient": "left", "values": [0, 1000, 2000, 3000, 4000, 5000, 6000], "format": "d", "grid": true,
                        "labelFontSize": 9, "tickSize": 5, "labelPadding": 3,
                        "title": "Ch1 Amplitude", "titleFontSize": 8.2, "titleAngle": -90, "titleX": -39, "titleY": 115.5, "titleBaseline": "middle"}},
                    "y2": {"field": "hi"},
                    "color": {"field": "zone", "type": "nominal", "legend": null,
                      "scale": {"domain": ["spray", "rain", "fringe", "body", "core"], "range": ["#c6c6c6", "#9a9a9a", "#6a6a6a", "#454545", "#2b2b2b"]}}
                  }
                },
                {
                  "data": {"name": "drops"},
                  "transform": [{"filter": "datum.sample === 'c37'"}],
                  "mark": {"type": "square", "size": 5, "color": "#3a3a3a", "opacity": 1},
                  "encoding": {
                    "x": {"field": "event", "type": "quantitative",
                      "axis": {"orient": "top", "labels": false, "ticks": false, "domain": false, "grid": false,
                        "title": "Contig", "titleFont": "Liberation Serif", "titleFontSize": 25.5, "titleFontStyle": "italic", "titleFontWeight": "normal",
                        "titleColor": "#000000", "titleAlign": "left", "titleBaseline": "alphabetic", "titleX": 38.6, "titleY": -40}},
                    "y": {"field": "amp", "type": "quantitative", "axis": null}
                  }
                },
                {
                  "data": {"name": "wells"},
                  "transform": [{"filter": "datum.sample === 'c37' && datum.start > 0"}],
                  "mark": {"type": "rule", "color": "#efef9a", "strokeWidth": 2.2},
                  "encoding": {
                    "x": {"field": "start", "type": "quantitative",
                      "axis": {"orient": "top", "values": [0, 20000, 40000, 60000, 80000, 100000, 120000, 140000, 160000],
                        "labels": false, "ticks": true, "tickSize": 4, "domain": false, "grid": false,
                        "title": "Ch1 Pos:0 Neg:171368", "titleFontSize": 8.9, "titleAlign": "center", "titleBaseline": "alphabetic", "titleX": 140, "titleY": -9.7}}
                  }
                },
                {
                  "data": {"name": "wells"},
                  "transform": [{"filter": "datum.sample === 'c37'"}, {"calculate": "(datum.start + datum.end) / 2", "as": "mid"}],
                  "mark": {"type": "text", "fontSize": 7, "color": "#333333", "baseline": "bottom", "dy": -1},
                  "encoding": {
                    "x": {"field": "mid", "type": "quantitative",
                      "axis": {"orient": "top", "labels": false, "ticks": false, "domain": false, "grid": false,
                        "title": "_37_35_16_15", "titleFont": "Liberation Serif", "titleFontSize": 25.5, "titleFontWeight": "normal",
                        "titleColor": "#000000", "titleAlign": "left", "titleBaseline": "alphabetic", "titleX": 109.3, "titleY": -40}},
                    "y": {"datum": 6000, "axis": null},
                    "text": {"field": "well"}
                  }
                },
                {
                  "data": {"name": "thresholds"},
                  "transform": [{"filter": "datum.sample === 'c37'"}],
                  "layer": [
                    {"mark": {"type": "rule", "color": "#ff00ff", "strokeWidth": 2.5},
                      "encoding": {"y": {"field": "threshold", "type": "quantitative", "axis": null}}},
                    {"mark": {"type": "text", "align": "right", "baseline": "bottom", "dx": -2, "dy": -1, "fontSize": 7, "color": "#333333"},
                      "encoding": {"x": {"value": "width"}, "y": {"field": "threshold", "type": "quantitative", "axis": null},
                        "text": {"field": "threshold", "type": "quantitative", "format": "d"}}}
                  ]
                }
              ]
            }
          ]
        }
      ]
    }
  ]
}
